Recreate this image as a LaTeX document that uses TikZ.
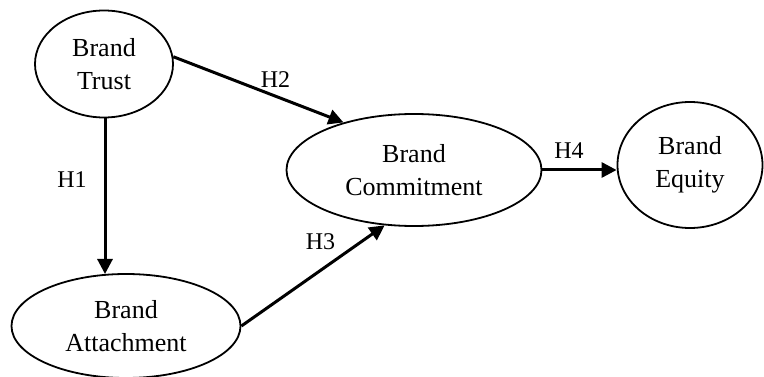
\documentclass[tikz,border=0pt]{standalone}
\usepackage{fontspec}
\setmainfont{Liberation Serif}
\usetikzlibrary{shapes.geometric,arrows.meta}
\begin{document}
\begin{tikzpicture}[x=1pt,y=-1pt,
  construct/.style={ellipse,draw=black,line width=1.8pt,inner sep=0pt,align=center,
    font=\fontsize{26}{33}\selectfont},
  path/.style={line width=3pt,-{Triangle[length=15pt,width=15pt]}},
  hyp/.style={font=\fontsize{24}{28}\selectfont,inner sep=0pt}]
\useasboundingbox (0,0) rectangle (764,377);
\node[construct,minimum width=138pt,minimum height=107pt] (trust) at (104,64) {Brand\\Trust};
\node[construct,minimum width=255pt,minimum height=112pt] (commit) at (414,170) {Brand\\Commitment};
\node[construct,minimum width=145pt,minimum height=126pt] (equity) at (690,165) {Brand\\Equity};
\node[construct,minimum width=229pt,minimum height=104pt] (attach) at (126,326) {Brand\\Attachment};
\coordinate (h1end) at (105,274);
\coordinate (h1start) at (105,117);
\draw[path] (h1start) -- (h1end);
\draw[path] (trust.6) -- (commit.146);
\draw[path] (attach.east) -- (commit.242);
\draw[path] (commit.east) -- (commit.east -| equity.west);
\node[hyp] (l1) at (72,180) {H1};
\node[hyp] (l2) at (275.5,80) {H2};
\node[hyp] (l3) at (320.5,241.5) {H3};
\node[hyp] (l4) at (569,150.5) {H4};
\end{tikzpicture}
\end{document}
